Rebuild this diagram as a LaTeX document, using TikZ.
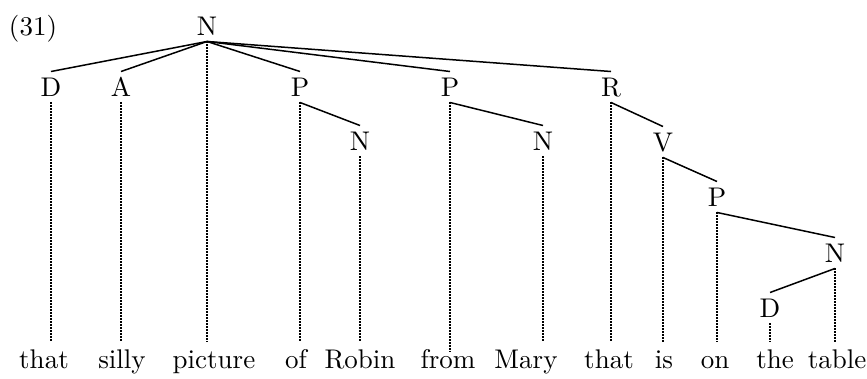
\documentclass[tikz,border=0pt]{standalone}
\usepackage{fontspec}
\begin{document}
\begin{tikzpicture}[x=1pt,y=-1pt,
  cat/.style={scale=2.7, transform shape, font=\fontsize{10}{12}\selectfont, text height=6.67pt, text depth=0pt, inner xsep=0.4pt, inner ysep=2.2pt, anchor=center},
  word/.style={scale=2.7, transform shape, font=\fontsize{10}{12}\selectfont, text height=6.67pt, text depth=2.2pt, inner xsep=0pt, inner ysep=2.6pt, anchor=base},
  branch/.style={line width=1.5pt},
  leaf/.style={line width=1.4pt, dash pattern=on 1.4pt off 1.6pt}]
\useasboundingbox (0,0) rectangle (867,379);
\node[cat] (ex) at (33,26) {(31)};
% categories
\node[cat] (n0) at (207,26) {N};
\node[cat] (d1) at (51,87) {D};
\node[cat] (a1) at (121,87) {A};
\node[cat] (p1) at (300,87) {P};
\node[cat] (p2) at (450,87) {P};
\node[cat] (r1) at (611,87) {R};
\node[cat] (n1) at (360,141) {N};
\node[cat] (n2) at (543,141) {N};
\node[cat] (v1) at (663,142) {V};
\node[cat] (p3) at (717,197) {P};
\node[cat] (n3) at (835,253) {N};
\node[cat] (d4) at (770,308) {D};
% words
\node[word] (w1) at (44,368) {that};
\node[word] (w2) at (122,368) {silly};
\node[word] (w3) at (214,368) {picture};
\node[word] (w4) at (296,368) {of};
\node[word] (w5) at (360,368) {Robin};
\node[word] (w6) at (448,368) {from};
\node[word] (w7) at (526,368) {Mary};
\node[word] (w8) at (609,368) {that};
\node[word] (w9) at (664,368) {is};
\node[word] (w10) at (715,368) {on};
\node[word] (w11) at (775,368) {the};
\node[word] (w12) at (837,368) {table};
% branches
\draw[branch] (n0.south) -- (d1.north);
\draw[branch] (n0.south) -- (a1.north);
\draw[branch] (n0.south) -- (p1.north);
\draw[branch] (n0.south) -- (p2.north);
\draw[branch] (n0.south) -- (r1.north);
\draw[branch] (p1.south) -- (n1.north);
\draw[branch] (p2.south) -- (n2.north);
\draw[branch] (r1.south) -- (v1.north);
\draw[branch] (v1.south) -- (p3.north);
\draw[branch] (p3.south) -- (n3.north);
\draw[branch] (n3.south) -- (d4.north);
% leaves
\draw[leaf] (d1.south) -- (d1.south |- w1.north);
\draw[leaf] (a1.south) -- (a1.south |- w2.north);
\draw[leaf] (n0.south) -- (n0.south |- w3.north);
\draw[leaf] (p1.south) -- (p1.south |- w4.north);
\draw[leaf] (n1.south) -- (n1.south |- w5.north);
\draw[leaf] (p2.south) -- ([yshift=-10pt]p2.south |- w6.north);
\draw[leaf] (n2.south) -- (n2.south |- w7.north);
\draw[leaf] (r1.south) -- (r1.south |- w8.north);
\draw[leaf] (v1.south) -- (v1.south |- w9.north);
\draw[leaf] (p3.south) -- (p3.south |- w10.north);
\draw[leaf] (d4.south) -- (d4.south |- w11.north);
\draw[leaf] (n3.south) -- (n3.south |- w12.north);
\end{tikzpicture}
\end{document}
